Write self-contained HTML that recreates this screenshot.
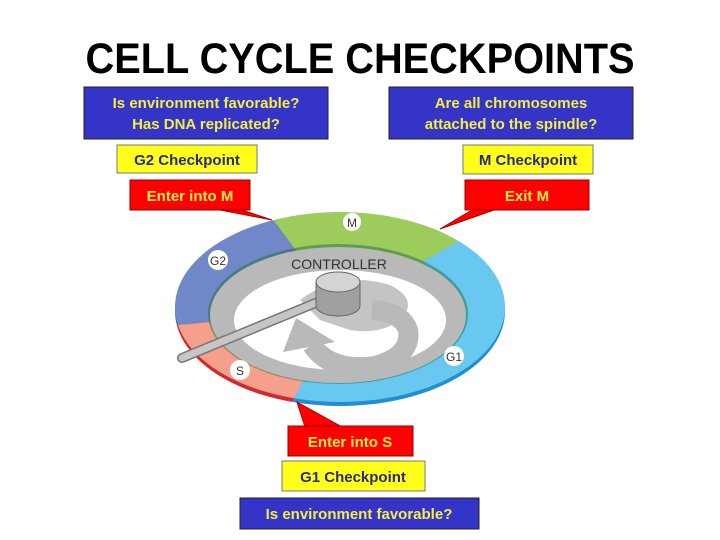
<!DOCTYPE html>
<html><head><meta charset="utf-8"><style>
html,body{margin:0;padding:0;background:#fff;width:720px;height:540px;overflow:hidden}
text{font-family:"Liberation Sans",Arial,sans-serif;font-weight:bold}
</style></head><body>
<svg width="720" height="540" viewBox="0 0 720 540" xmlns="http://www.w3.org/2000/svg">
<defs>
<clipPath id="outer"><ellipse cx="340" cy="307" rx="165" ry="95"/></clipPath>
<clipPath id="outer2"><ellipse cx="340" cy="311" rx="165" ry="95"/></clipPath>
</defs>
<text x="360" y="73" font-size="43" text-anchor="middle" textLength="549" lengthAdjust="spacingAndGlyphs" fill="#000">CELL CYCLE CHECKPOINTS</text>

<rect x="84" y="87" width="244" height="52" fill="#3434c8" stroke="#222" stroke-width="1"/>
<text x="206" y="108" font-size="15" text-anchor="middle" fill="#f4f040">Is environment favorable?</text>
<text x="206" y="129" font-size="15" text-anchor="middle" fill="#f4f040">Has DNA replicated?</text>
<rect x="389" y="87" width="244" height="52" fill="#3434c8" stroke="#222" stroke-width="1"/>
<text x="511" y="108" font-size="15" text-anchor="middle" fill="#f4f040">Are all chromosomes</text>
<text x="511" y="129" font-size="15" text-anchor="middle" fill="#f4f040">attached to the spindle?</text>

<rect x="117" y="145" width="140" height="28" fill="#ffff1a" stroke="#777"/>
<text x="187" y="165" font-size="15" text-anchor="middle" fill="#2a2a80">G2 Checkpoint</text>
<rect x="463" y="145" width="130" height="29" fill="#ffff1a" stroke="#777"/>
<text x="528" y="165" font-size="15" text-anchor="middle" fill="#2a2a80">M Checkpoint</text>

<g clip-path="url(#outer2)">
<polygon points="340,310 204,126 340,100 570,176" fill="#1e9c48"/>
<polygon points="340,310 570,176 700,310 500,520 246,490" fill="#1f8fd0"/>
<polygon points="340,310 246,490 16,340" fill="#d02a2c"/>
<polygon points="340,310 16,340 0,150 204,126" fill="#3f5ea8"/>
</g>
<g clip-path="url(#outer)">
<polygon points="340,310 204,126 340,100 570,176" fill="#9dcc5c"/>
<polygon points="340,310 570,176 700,310 500,520 246,490" fill="#68c8f0"/>
<polygon points="340,310 246,490 16,340" fill="#f4a08c"/>
<polygon points="340,310 16,340 0,150 204,126" fill="#7088c8"/>
</g>
<ellipse cx="338" cy="314" rx="130" ry="70" fill="#1e6f3a" opacity="0.5"/>
<ellipse cx="338" cy="315" rx="128" ry="68" fill="#b9b9b9"/>
<ellipse cx="340" cy="320" rx="106" ry="50" fill="#fff"/>
<!-- shadow + circular arrow -->
<path d="M300 300 Q340 270 390 285 Q420 300 400 320 Q380 335 350 330 L320 320 Z" fill="#c4c4c4"/>
<path d="M312 345 Q330 372 375 366 Q412 356 408 330 Q402 312 372 310" fill="none" stroke="#b9b9b9" stroke-width="20"/>
<polygon points="283,352 296,318 335,342" fill="#b9b9b9"/>
<!-- lever -->
<line x1="182" y1="358" x2="330" y2="297" stroke="#777" stroke-width="10" stroke-linecap="round"/>
<line x1="182" y1="358" x2="330" y2="297" stroke="#c6c6c6" stroke-width="7" stroke-linecap="round"/>
<path d="M316 282 L316 306 A22 10 0 0 0 360 306 L360 282 Z" fill="#a0a0a0" stroke="#666" stroke-width="1"/>
<ellipse cx="338" cy="282" rx="22" ry="10" fill="#d4d4d4" stroke="#666" stroke-width="1"/>
<text x="339" y="269" font-size="14" text-anchor="middle" fill="#333" style="font-weight:normal">CONTROLLER</text>
<circle cx="352" cy="222" r="9" fill="#fff"/><text x="352" y="227" font-size="12" text-anchor="middle" fill="#333" style="font-weight:normal">M</text>
<circle cx="218" cy="260" r="10" fill="#fff"/><text x="218" y="265" font-size="12" text-anchor="middle" fill="#333" style="font-weight:normal">G2</text>
<circle cx="454" cy="356" r="10" fill="#fff"/><text x="454" y="361" font-size="12" text-anchor="middle" fill="#333" style="font-weight:normal">G1</text>
<circle cx="240" cy="370" r="10" fill="#fff"/><text x="240" y="375" font-size="12" text-anchor="middle" fill="#333" style="font-weight:normal">S</text>

<polygon points="220,210 242,210 272,220" fill="#f00" stroke="#a00" stroke-width="1"/>
<rect x="130" y="180" width="120" height="30" fill="#f00" stroke="#900"/>
<text x="190" y="201" font-size="15" text-anchor="middle" fill="#f4f040">Enter into M</text>
<polygon points="472,210 494,210 440,229" fill="#f00" stroke="#a00" stroke-width="1"/>
<rect x="465" y="180" width="124" height="30" fill="#f00" stroke="#900"/>
<text x="527" y="201" font-size="15" text-anchor="middle" fill="#f4f040">Exit M</text>
<polygon points="305,427 342,427 297,402" fill="#f00" stroke="#a00" stroke-width="1"/>
<rect x="288" y="426" width="125" height="30" fill="#f00" stroke="#900"/>
<text x="350" y="447" font-size="15" text-anchor="middle" fill="#f4f040">Enter into S</text>

<rect x="282" y="461" width="143" height="30" fill="#ffff1a" stroke="#777"/>
<text x="353" y="482" font-size="15" text-anchor="middle" fill="#2a2a80">G1 Checkpoint</text>
<rect x="240" y="498" width="239" height="31" fill="#3434c8" stroke="#222"/>
<text x="359" y="519" font-size="15" text-anchor="middle" fill="#f4f040">Is environment favorable?</text>
</svg>
</body></html>
